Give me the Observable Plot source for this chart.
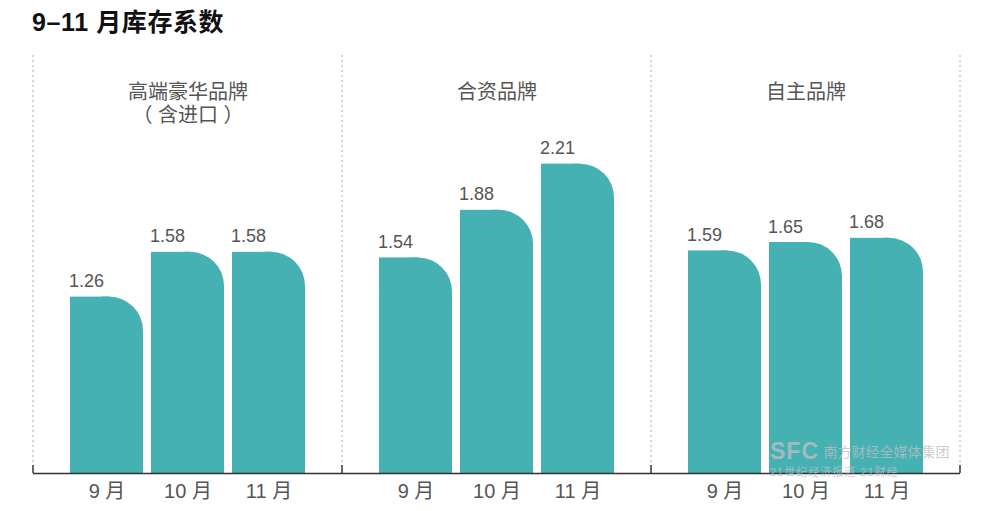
<!DOCTYPE html>
<html><head><meta charset="utf-8">
<script src="https://cdn.jsdelivr.net/npm/d3@7"></script>
<script src="https://cdn.jsdelivr.net/npm/@observablehq/plot@0.6"></script>
<style>
body{margin:0;background:#fff;font-family:"Liberation Sans","Noto Sans CJK SC",sans-serif;}
#wrap{position:relative;width:984px;height:511px;overflow:hidden;}
#title{position:absolute;left:32px;top:2px;font-size:25px;font-weight:bold;color:#111;letter-spacing:0.6px;}
#chart{position:absolute;left:0;top:45px;}
#wm{position:absolute;left:770px;top:440px;color:rgba(190,190,190,0.8);line-height:1;white-space:nowrap;}
#wm .a{font-size:23px;font-weight:bold;letter-spacing:1px;vertical-align:middle;}
#wm .b{font-size:14px;vertical-align:middle;}
#wm .c{font-size:11px;margin-top:4px;letter-spacing:1px;}
</style></head><body>
<div id="wrap">
<div id="title">9–11 月库存系数</div>
<div id="chart"></div>
<div id="wm"><span class="a">SFC</span> <span class="b">南方财经全媒体集团</span><div class="c">21世纪经济报道 21财经</div></div>
</div>
<script>
const groupKeys = ["高端豪华品牌（含进口）", "合资品牌", "自主品牌"];
const groupLabels = ["高端豪华品牌\n（ 含进口 ）", "合资品牌", "自主品牌"];
const months = ["9 月", "10 月", "11 月"];
const luxury = [1.26, 1.58, 1.58];
const jointVenture = [1.54, 1.88, 2.21];
const domestic = [1.59, 1.65, 1.68];

const seriesByGroup = [luxury, jointVenture, domestic];
const data = [];
groupKeys.forEach((g, gi) => months.forEach((m, mi) => data.push({group: g, month: m, value: seriesByGroup[gi][mi]})));

const teal = "#46b1b3";
const R = 34;
const W = 984, H = 466, mL = 33, mR = 24, mT = 10, mB = 38;

const plot = Plot.plot({
  width: W, height: H,
  marginLeft: mL, marginRight: mR, marginTop: mT, marginBottom: mB,
  style: {fontSize: "17px", fontFamily: "'Liberation Sans','Noto Sans CJK SC',sans-serif", color: "#555", background: "transparent"},
  fx: {domain: groupKeys, padding: 0, axis: null, label: null},
  x: {domain: months, paddingInner: 0.0976, paddingOuter: 0.433, axis: null, label: null},
  y: {domain: [0, 2.986], axis: null},
  marks: [
    Plot.barY(data, {fx: "group", x: "month", y: "value", fill: teal, rx: R}),
    Plot.barY(data, {fx: "group", x: "month", y: "value", fill: teal, insetRight: R}),
    Plot.barY(data, {fx: "group", x: "month", y: "value", fill: teal, insetTop: R}),
    Plot.ruleY([0], {stroke: "#333", strokeWidth: 1.5}),
    Plot.text(data, {fx: "group", x: "month", y: "value", text: d => d.value.toFixed(2), textAnchor: "start", lineAnchor: "bottom", dx: -38, dy: -10, fontSize: 18, fill: "#555"}),
    Plot.text(data, {fx: "group", x: "month", text: "month", frameAnchor: "bottom", lineAnchor: "top", dy: 10, fontSize: 20, fill: "#555"}),
    Plot.text(groupKeys, {fx: d => d, text: (d, i) => groupLabels[i], frameAnchor: "top", lineAnchor: "top", dy: 27, fontSize: 20, lineHeight: 1.15, fill: "#555"})
  ]
});
document.getElementById("chart").append(plot);

// facet separators and boundary ticks, positioned from Plot's fx scale
const fx = plot.scale("fx");
let edges;
if (fx && fx.apply && fx.bandwidth) {
  edges = groupKeys.map(k => fx.apply(k));
  edges.push(fx.apply(groupKeys[groupKeys.length - 1]) + fx.bandwidth);
} else {
  const step = (W - mL - mR) / groupKeys.length;
  edges = d3.range(groupKeys.length + 1).map(i => mL + i * step);
}
const svg = d3.select(plot);
const g = svg.append("g");
g.selectAll("line.sep").data(edges).join("line").attr("class", "sep")
  .attr("x1", d => d).attr("x2", d => d).attr("y1", mT).attr("y2", H - mB - 8)
  .attr("stroke", "#aaa").attr("stroke-width", 1).attr("stroke-dasharray", "2,3");
g.selectAll("line.tk").data(edges).join("line").attr("class", "tk")
  .attr("x1", d => d).attr("x2", d => d).attr("y1", H - mB - 8).attr("y2", H - mB)
  .attr("stroke", "#333").attr("stroke-width", 1.5);
</script>
</body></html>
